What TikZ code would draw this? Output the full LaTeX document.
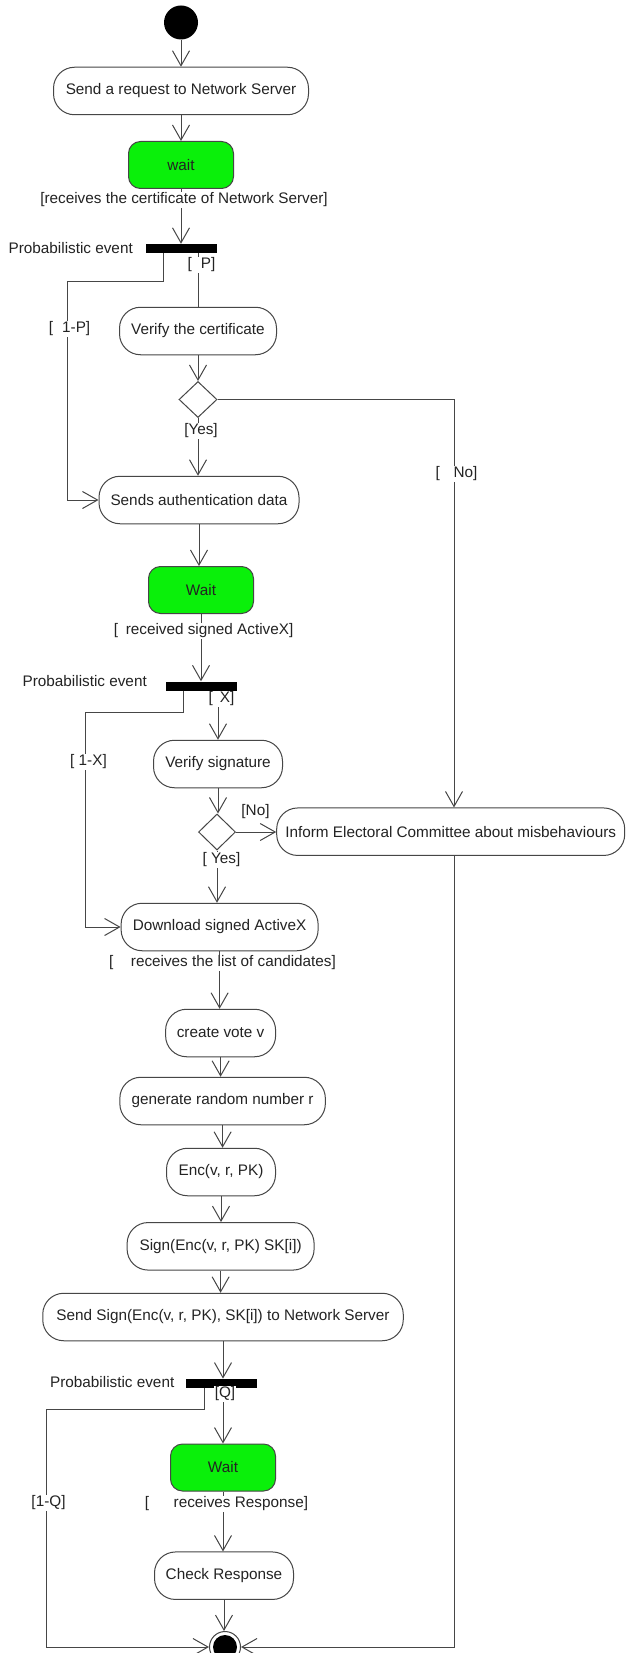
\documentclass[tikz,border=0pt]{standalone}
\usepackage{fontspec}
\setmainfont{Liberation Sans}
\usetikzlibrary{arrows.meta,shapes.geometric}
\definecolor{ln}{RGB}{70,70,70}
\definecolor{wg}{RGB}{10,240,10}
\definecolor{tx}{RGB}{35,35,35}
\begin{document}
\begin{tikzpicture}[x=1pt,y=-1pt,
  every node/.style={font=\fontsize{15.3}{18}\selectfont, text=tx, inner sep=0pt},
  act/.style={draw=ln, line width=1pt, rounded corners=21pt, fill=white, minimum height=47.5pt},
  waitbox/.style={draw=ln, line width=1pt, rounded corners=12pt, fill=wg, minimum width=105pt, minimum height=47pt},
  bar/.style={fill=black, minimum width=71pt, minimum height=9pt},
  dec/.style={draw=ln, line width=1pt, diamond, minimum width=38pt, minimum height=36pt, fill=white},
  flow/.style={draw=ln, line width=1pt, -{Straight Barb[length=15pt,width=17pt]}},
  plain/.style={draw=ln, line width=1pt},
  guard/.style={fill=white, inner sep=1pt},
]
\useasboundingbox[fill=white] (0,0) rectangle (626,1653);

% nodes
\node[circle, fill=black, minimum size=34pt] (start) at (181,22.5) {};
\node[act, minimum width=255pt] (n1) at (181,91) {Send a request to Network Server};
\node[waitbox] (w1) at (181,165) {wait};
\node[bar] (bar1) at (181.5,248.5) {};
\node[anchor=east] (pe1) at (133,248) {Probabilistic event};
\node[act, minimum width=157pt] (vc) at (198,331) {Verify the certificate};
\node[dec] (d1) at (198,399.5) {};
\node[act, minimum width=200pt] (sa) at (199,500) {Sends authentication data};
\node[waitbox] (w2) at (201,590) {Wait};
\node[bar] (bar2) at (201,686) {};
\node[anchor=east] (pe2) at (147,681) {Probabilistic event};
\node[act, minimum width=129pt] (vs) at (218,764) {Verify signature};
\node[dec, minimum width=37pt] (d2) at (217,832) {};
\node[act, minimum width=348pt] (inf) at (450.7,831.7) {Inform Electoral Committee about misbehaviours};
\node[act, minimum width=197pt] (dl) at (219.6,927) {Download signed ActiveX};
\node[act, minimum width=110pt] (cv) at (220.6,1033) {create vote v};
\node[act, minimum width=205.5pt] (gr) at (222.6,1101) {generate random number r};
\node[act, minimum width=109pt] (enc) at (221,1172) {Enc(v, r, PK)};
\node[act, minimum width=187pt] (sg) at (220.6,1246.3) {Sign(Enc(v, r, PK) SK[i])};
\node[act, minimum width=360.5pt] (ss) at (223,1317) {Send Sign(Enc(v, r, PK), SK[i]) to Network Server};
\node[bar] (bar3) at (221.8,1383.3) {};
\node[anchor=east] (pe3) at (174.5,1382) {Probabilistic event};
\node[waitbox] (w3) at (223,1467.5) {Wait};
\node[act, minimum width=139pt] (cr) at (224,1575.7) {Check Response};
\node[circle, draw=ln, line width=1pt, minimum size=31pt] (endc) at (225,1647) {};
\node[circle, fill=black, minimum size=24pt] (endin) at (endc) {};

\coordinate (k1) at (67,281);
\coordinate (k2) at (454,399.5);
\coordinate (k3) at (85,712.3);
\coordinate (k4) at (46,1409.3);

% connectors
\draw[flow] (start) -- (n1);
\draw[flow] (n1) -- (w1);
\draw[flow] (w1.south) -- (w1.south |- bar1.north);
\draw[flow] ([xshift=-18.5pt]bar1.south) |- (k1) |- (sa.west);
\draw[plain] (vc.north |- bar1.south) -- (vc.north);
\draw[flow] (vc.south) -- (d1.north);
\draw[flow] (d1.south) -- (d1.south |- sa.north);
\draw[flow] (d1.east) -- (k2) -- (k2 |- inf.north);
\draw[flow] (sa.south) -- (sa.south |- w2.north);
\draw[flow] (w2.south) -- (w2.south |- bar2.north);
\draw[flow] ([xshift=-17.4pt]bar2.south) |- (k3) |- (dl.west);
\draw[flow] (vs.north |- bar2.south) -- (vs.north);
\draw[flow] (vs.south) -- (vs.south |- d2.north);
\draw[flow] (d2.east) -- (d2.east -| inf.west);
\draw[flow] (d2.south) -- (d2.south |- dl.north);
\draw[flow] (dl.south) -- (dl.south |- cv.north);
\draw[flow] (cv.south) -- (cv.south |- gr.north);
\draw[flow] (gr.south) -- (gr.south |- enc.north);
\draw[flow] (enc.south) -- (enc.south |- sg.north);
\draw[flow] (sg.south) -- (sg.south |- ss.north);
\draw[flow] (ss.south) -- (ss.south |- bar3.north);
\draw[flow] ([xshift=-17.4pt]bar3.south) |- (k4) |- (endc.west);
\draw[flow] (w3.north |- bar3.south) -- (w3.north);
\draw[flow] (w3.south) -- (w3.south |- cr.north);
\draw[flow] (cr.south) -- (cr.south |- endc.north);
\draw[flow] (k2 |- inf.south) |- (endc.east);

% guards
\node[guard] (g1) at (184,200) {[receives the certificate of Network Server]};
\node[guard] (gp) at (201.5,265) {[\hspace{0.6em}P]};
\node[guard] (g1p) at (69.5,329) {[\hspace{0.6em}1-P]};
\node[guard] (gyes1) at (201,431) {[Yes]};
\node[guard] (gno1) at (456.5,474) {[\hspace{0.9em}No]};
\node[guard] (g2) at (203.6,631) {[\hspace{0.5em}received signed ActiveX]};
\node[guard] (gx) at (221.5,699) {[\hspace{0.45em}X]};
\node[guard] (g1x) at (88.5,762) {[ 1-X]};
\node[guard] (gno2) at (255.5,812) {[No]};
\node[guard] (gyes2) at (221.5,860) {[ Yes]};
\node[guard] (g3) at (222.5,963) {[\hspace{1.15em}receives the list of candidates]};
\node[guard] (gq) at (225,1394) {[Q]};
\node[guard] (g1q) at (48.5,1503) {[1-Q]};
\node[guard] (g4) at (226.5,1504) {[\hspace{1.6em}receives Response]};
\end{tikzpicture}
\end{document}
